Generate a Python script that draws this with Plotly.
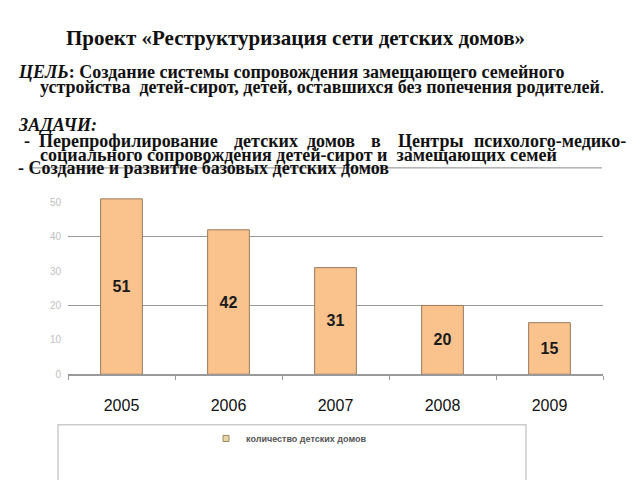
import plotly.graph_objects as go

years = ["2005", "2006", "2007", "2008", "2009"]
counts = [51, 42, 31, 20, 15]
series_name = "количество детских домов"
y_tick_vals = [0, 10, 20, 30, 40, 50]
grid_vals = [20, 40, 60]

W, H = 640, 480
def px(x):
    return x / W
def py(y):
    return 1 - y / H

fig = go.Figure()
fig.add_trace(go.Bar(
    x=years, y=counts, name=series_name,
    marker=dict(color="#FAC38E", line=dict(color="#9C7A5A", width=1)),
    width=0.39,
    text=[str(v) for v in counts],
    textposition="inside", insidetextanchor="middle",
    textfont=dict(family="Liberation Sans", size=16, color="#1a1a1a"),
    texttemplate="<b>%{text}</b>",
    showlegend=False,
))
# legend entry with a small square symbol
fig.add_trace(go.Scatter(
    x=[None], y=[None], mode="markers", name="<b>" + series_name + "</b>",
    marker=dict(symbol="square", size=6, color="#E8D6A8", line=dict(color="#9C8A5A", width=1)),
    showlegend=True,
))

serif = "Liberation Serif"
ann = []
def T(x, y, text, size=18, anchor="left", color="#111"):
    ann.append(dict(x=px(x), y=py(y), xref="paper", yref="paper", text=text,
                    showarrow=False, xanchor=anchor, yanchor="middle",
                    font=dict(family=serif, size=size, color=color)))

T(295, 38, "<b>Проект «Реструктуризация сети детских домов»</b>", size=21, anchor="center")
T(16, 73, "<b><i>ЦЕЛЬ</i>: Создание системы сопровождения замещающего семейного</b>")
T(38, 88, "<b>устройства  детей-сирот, детей, оставшихся без попечения родителей</b>.")
T(16, 127, "<b><i>ЗАДАЧИ:</i></b>")
T(22, 143, "<b>-  Перепрофилирование</b>")
T(232, 143, "<b>детских</b>")
T(305, 143, "<b>домов</b>")
T(369, 143, "<b>в</b>")
T(396, 143, "<b>Центры</b>")
T(628, 143, "<b>психолого-медико-</b>", anchor="right")
T(38, 157, "<b>социального сопровождения детей-сирот и  замещающих семей</b>")
T(16, 170, "<b>- Создание и развитие базовых детских домов</b>")

shapes = [
    dict(type="line", xref="paper", yref="paper", x0=px(30), x1=px(602),
         y0=py(170), y1=py(170), line=dict(color="#888", width=1), layer="above"),
    dict(type="rect", xref="paper", yref="paper", x0=px(58), x1=px(526),
         y0=-0.05, y1=py(430), line=dict(color="#cccccc", width=1.5), layer="below"),
]

fig.update_layout(
    width=W, height=H, margin=dict(l=0, r=0, t=0, b=0),
    paper_bgcolor="white", plot_bgcolor="white",
    bargap=0.6,
    xaxis=dict(domain=[px(68), px(603)], showgrid=False,
               showline=True, linecolor="#999", linewidth=1.5,
               ticks="outside", tickson="boundaries", ticklen=4, tickcolor="#999",
               tickfont=dict(family="Liberation Sans", size=16, color="#111"),
               ticklabelstandoff=16),
    yaxis=dict(domain=[py(379), py(170)], range=[0, 60],
               tickvals=y_tick_vals, showgrid=False, zeroline=False, showline=False,
               tickfont=dict(family="Liberation Sans", size=10, color="#c0c0c0"),
               ticklabelstandoff=6,
               minor=dict(tickvals=grid_vals, showgrid=True, gridcolor="#999", gridwidth=1)),
    legend=dict(x=px(206), y=py(444), xanchor="left", yanchor="middle",
                bgcolor="rgba(0,0,0,0)", borderwidth=0, itemwidth=30,
                font=dict(family="Liberation Sans", size=9, color="#555")),
    annotations=ann, shapes=shapes,
)

fig.write_html("out.html")
